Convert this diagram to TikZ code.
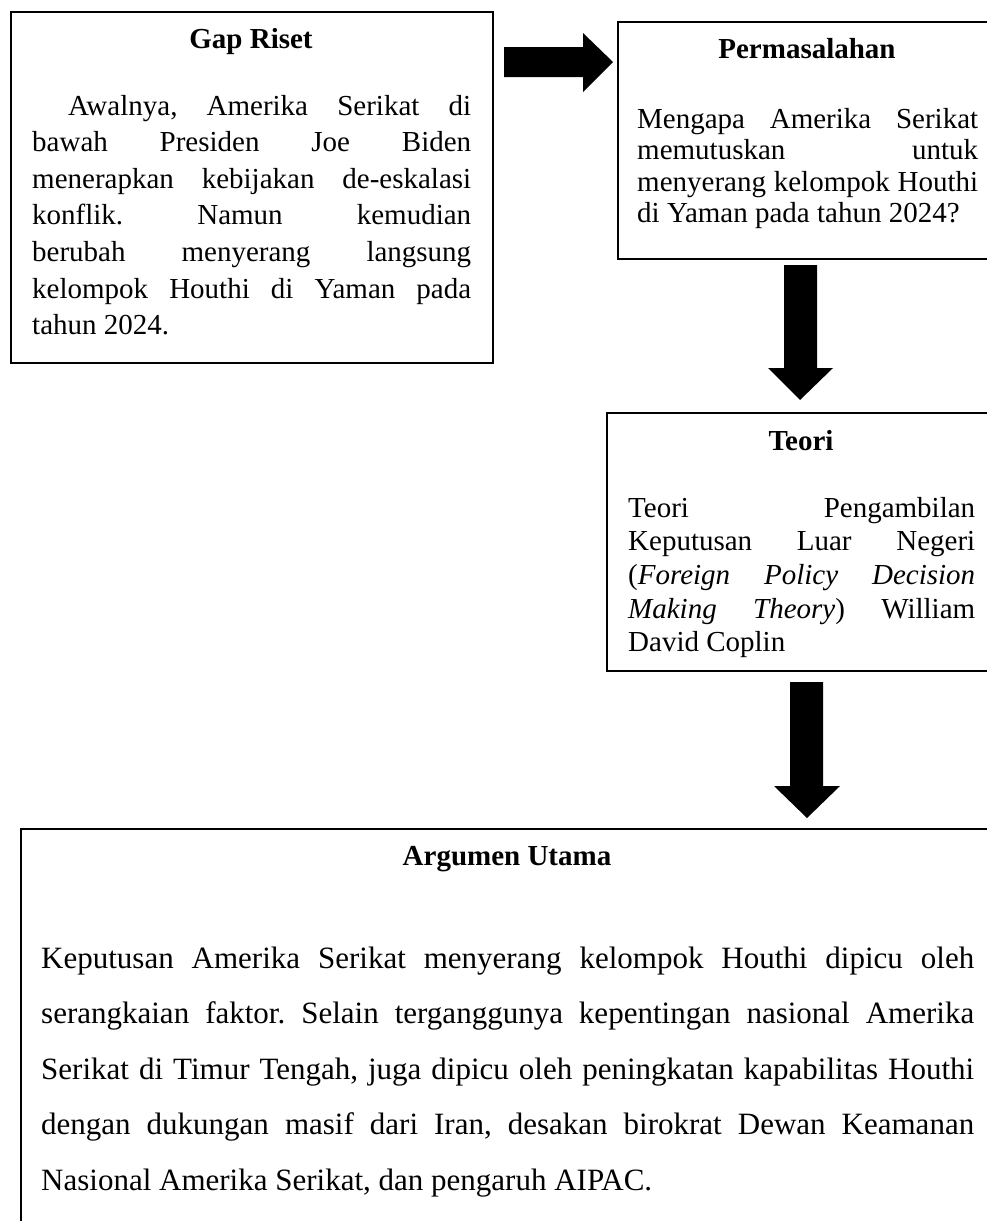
\documentclass[tikz,border=0pt]{standalone}
\usepackage{fontspec}
\setmainfont{Liberation Serif}
\hyphenpenalty=10000
\exhyphenpenalty=10000
\hbadness=10000
\frenchspacing
\begin{document}
\begin{tikzpicture}[x=1pt,y=-1pt,
  box/.style={draw=black, line width=1.8pt, fill=white, rectangle, inner sep=0pt, anchor=north west},
  title/.style={font=\fontsize{29}{34}\selectfont\bfseries, inner sep=0pt, anchor=base},
  bodytext/.style={inner sep=0pt, anchor=base west, align=justify},
  blockarrow/.style={fill=black, draw=none}]
\useasboundingbox (0,0) rectangle (987,1221);
\clip (0,0) rectangle (987,1221);
\fill[white] (0,0) rectangle (987,1221);

% Gap Riset
\node[box, minimum width=482pt, minimum height=351pt] (gap) at (10,11) {};
\node[title] (gapT) at (251,48) {Gap Riset};
\node[bodytext, text width=439pt, font=\fontsize{29}{36.6}\selectfont] (gapB) at (32,115)
 {\hspace*{36pt}Awalnya, Amerika Serikat di\linebreak bawah Presiden Joe Biden\linebreak menerapkan kebijakan de-eskalasi\linebreak konflik. Namun kemudian\linebreak berubah menyerang langsung\linebreak kelompok Houthi di Yaman pada\linebreak tahun 2024.};

% Permasalahan
\node[box, minimum width=400pt, minimum height=237pt] (perm) at (617,21) {};
\node[title] (permT) at (807,58) {Permasalahan};
\node[bodytext, text width=341pt, font=\fontsize{29}{31.5}\selectfont] (permB) at (637,128)
 {Mengapa Amerika Serikat\linebreak memutuskan untuk\linebreak menyerang kelompok Houthi\linebreak di Yaman pada tahun 2024?};

% Teori
\node[box, minimum width=410pt, minimum height=258pt] (teori) at (606,412) {};
\node[title] (teoriT) at (801,450) {Teori};
\node[bodytext, text width=347pt, font=\fontsize{29}{33.7}\selectfont] (teoriB) at (628,517)
 {Teori Pengambilan\linebreak Keputusan Luar Negeri\linebreak (\textit{Foreign Policy Decision\linebreak Making Theory}) William\linebreak David Coplin};

% Argumen Utama
\node[box, minimum width=1000pt, minimum height=420pt] (arg) at (20,828) {};
\node[title] (argT) at (507,865) {Argumen Utama};
\node[bodytext, text width=933pt, font=\fontsize{31}{55.5}\selectfont] (argB) at (41,968)
 {Keputusan Amerika Serikat menyerang kelompok Houthi dipicu oleh\linebreak serangkaian faktor. Selain terganggunya kepentingan nasional Amerika\linebreak Serikat di Timur Tengah, juga dipicu oleh peningkatan kapabilitas Houthi\linebreak dengan dukungan masif dari Iran, desakan birokrat Dewan Keamanan\linebreak Nasional Amerika Serikat, dan pengaruh AIPAC.};

% Block arrows
\fill[blockarrow] (504,47) -- (583,47) -- (583,33) -- (613,62) -- (583,92) -- (583,77) -- (504,77) -- cycle;
\fill[blockarrow] (784,265) -- (817,265) -- (817,368) -- (833,368) -- (800,400) -- (768,368) -- (784,368) -- cycle;
\fill[blockarrow] (790,682) -- (823,682) -- (823,786) -- (840,786) -- (807,818) -- (774,786) -- (790,786) -- cycle;
\end{tikzpicture}
\end{document}
